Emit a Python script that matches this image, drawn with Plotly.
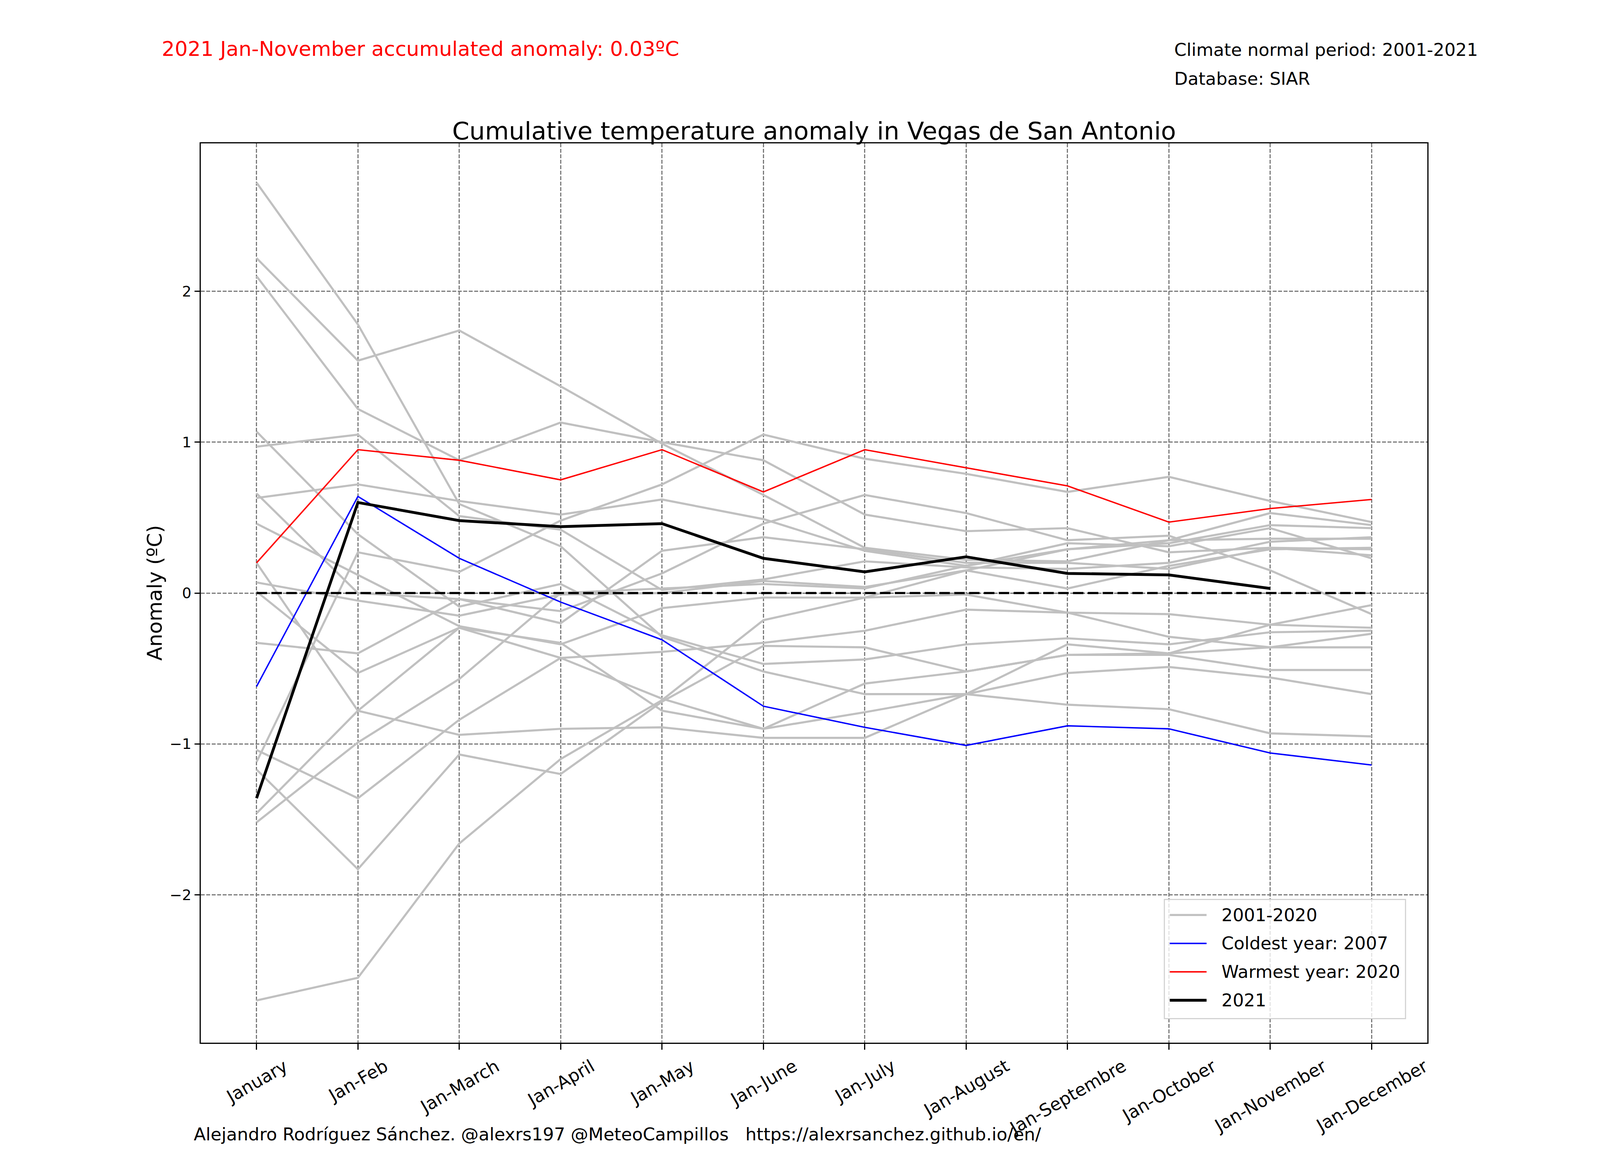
import plotly.graph_objects as go

# cumulative periods on the x axis
periods = ["January", "Jan-Feb", "Jan-March", "Jan-April", "Jan-May", "Jan-June",
           "Jan-July", "Jan-August", "Jan-Septembre", "Jan-October", "Jan-November",
           "Jan-December"]

# 2001-2020 cumulative anomalies (ºC)
past_years = [
    [2.72, 1.78, 0.59, 0.31, -0.29, -0.52, -0.67, -0.67, -0.74, -0.77, -0.93, -0.95],
    [2.22, 1.54, 1.74, 1.37, 0.99, 0.65, 0.30, 0.22, 0.21, 0.35, 0.36, 0.36],
    [2.10, 1.22, 0.88, 1.13, 1.00, 0.88, 0.52, 0.41, 0.43, 0.27, 0.30, 0.29],
    [1.07, 0.39, -0.09, 0.06, -0.28, -0.47, -0.44, -0.34, -0.30, -0.34, -0.26, -0.25],
    [0.97, 1.05, 0.51, 0.42, 0.02, 0.09, 0.21, 0.17, 0.16, 0.20, 0.34, 0.37],
    [0.66, 0.00, -0.04, -0.12, 0.13, 0.46, 0.65, 0.53, 0.35, 0.38, 0.15, -0.14],
    [0.63, 0.72, 0.61, 0.52, 0.62, 0.49, 0.28, 0.18, 0.29, 0.33, 0.45, 0.43],
    [0.46, 0.12, -0.22, -0.34, -0.10, -0.03, -0.03, -0.01, -0.13, -0.29, -0.36, -0.36],
    [0.20, -0.78, -0.94, -0.90, -0.89, -0.96, -0.96, -0.67, -0.34, -0.40, -0.21, -0.08],
    [0.07, -0.05, -0.15, -0.01, 0.00, 0.08, 0.04, 0.15, 0.03, 0.18, 0.29, 0.30],
    [0.01, -0.53, -0.23, -0.43, -0.70, -0.90, -0.79, -0.67, -0.53, -0.49, -0.56, -0.67],
    [-0.33, -0.40, -0.04, -0.20, 0.28, 0.37, 0.29, 0.20, 0.20, 0.16, 0.30, 0.25],
    [-1.04, -1.36, -0.84, -0.43, -0.39, -0.33, -0.25, -0.11, -0.13, -0.14, -0.21, -0.23],
    [-1.12, 0.27, 0.14, 0.48, 0.72, 1.05, 0.89, 0.79, 0.67, 0.77, 0.61, 0.47],
    [-1.17, -1.83, -1.07, -1.20, -0.72, -0.35, -0.36, -0.52, -0.41, -0.41, -0.51, -0.51],
    [-1.46, -0.78, -0.23, -0.33, -0.78, -0.90, -0.60, -0.52, -0.41, -0.40, -0.36, -0.27],
    [-1.52, -0.99, -0.57, 0.00, 0.03, 0.06, 0.03, 0.18, 0.33, 0.31, 0.43, 0.23],
    [-2.70, -2.55, -1.66, -1.10, -0.71, -0.18, -0.03, 0.15, 0.29, 0.35, 0.53, 0.45],
]

coldest_2007 = [-0.62, 0.64, 0.23, -0.06, -0.31, -0.75, -0.89, -1.01, -0.88, -0.90, -1.06, -1.14]
warmest_2020 = [0.20, 0.95, 0.88, 0.75, 0.95, 0.67, 0.95, 0.83, 0.71, 0.47, 0.56, 0.62]
current_2021 = [-1.36, 0.60, 0.48, 0.44, 0.46, 0.23, 0.14, 0.24, 0.13, 0.12, 0.03]

y_ticks = [-2, -1, 0, 1, 2]

FONT = "DejaVu Sans"
# the visible page is narrower than 4500 css px: lay out in reference
# pixels (4500x3000) and scale to the page size
W, H = 4050, 2990
SX = W / 4500.0
SY = H / 3000.0


def px(v):
    return v * SX


x_idx = list(range(len(periods)))

fig = go.Figure()

for serie in past_years:
    fig.add_trace(go.Scatter(x=x_idx, y=serie, mode="lines",
                             line=dict(color="#c0c0c0", width=px(6)), showlegend=False))

fig.add_trace(go.Scatter(x=x_idx, y=coldest_2007, mode="lines",
                         line=dict(color="blue", width=px(4)), showlegend=False))
fig.add_trace(go.Scatter(x=x_idx, y=warmest_2020, mode="lines",
                         line=dict(color="red", width=px(4)), showlegend=False))
fig.add_trace(go.Scatter(x=x_idx, y=[0] * len(periods), mode="lines",
                         line=dict(color="black", width=px(6),
                                   dash="%dpx,%dpx" % (px(31), px(13))),
                         showlegend=False))
fig.add_trace(go.Scatter(x=x_idx[:len(current_2021)], y=current_2021, mode="lines",
                         line=dict(color="black", width=px(8)), showlegend=False))

# rotated x tick labels, centred under each tick like matplotlib does
annotations = []
for i, lab in enumerate(periods):
    annotations.append(dict(x=i, y=0, xref="x", yref="paper", text=lab,
                            showarrow=False, textangle=-30, xanchor="center",
                            yanchor="top", yshift=-30 * SY,
                            font=dict(family=FONT, size=px(50), color="black")))

annotations += [
    dict(x=-0.0375, y=0.5, xref="paper", yref="paper", text="Anomaly (ºC)",
         textangle=-90, showarrow=False, xanchor="center", yanchor="middle",
         font=dict(family=FONT, size=px(58), color="black")),
    dict(x=-0.0324, y=1.105, xref="paper", yref="paper",
         text="2021 Jan-November accumulated anomaly: 0.03ºC", showarrow=False,
         xanchor="left", yanchor="middle",
         font=dict(family=FONT, size=px(58), color="red")),
    dict(x=0.793, y=1.104, xref="paper", yref="paper",
         text="Climate normal period: 2001-2021", showarrow=False,
         xanchor="left", yanchor="middle",
         font=dict(family=FONT, size=px(50), color="black")),
    dict(x=0.793, y=1.072, xref="paper", yref="paper", text="Database: SIAR",
         showarrow=False, xanchor="left", yanchor="middle",
         font=dict(family=FONT, size=px(50), color="black")),
    dict(x=-0.0063, y=-0.102, xref="paper", yref="paper",
         text="Alejandro Rodríguez Sánchez. @alexrs197 @MeteoCampillos   "
              "https://alexrsanchez.github.io/en/",
         showarrow=False, xanchor="left", yanchor="middle",
         font=dict(family=FONT, size=px(50), color="black")),
]

# legend box drawn by hand so the line samples keep matplotlib proportions
legend_items = [("2001-2020", "#c0c0c0", 6), ("Coldest year: 2007", "blue", 4),
                ("Warmest year: 2020", "red", 4), ("2021", "black", 8)]
legend_rows = [0.1420, 0.1104, 0.0788, 0.0472]
shapes = [dict(type="rect", xref="paper", yref="paper", x0=0.7856, x1=0.9822,
               y0=0.0268, y1=0.1593, fillcolor="rgba(255,255,255,0.8)",
               line=dict(color="#d0d0d0", width=px(3)), layer="above")]
for (name, col, w), yy in zip(legend_items, legend_rows):
    shapes.append(dict(type="line", xref="paper", yref="paper", x0=0.790, x1=0.820,
                       y0=yy, y1=yy, line=dict(color=col, width=px(w)), layer="above"))
    annotations.append(dict(x=0.8315, y=yy, xref="paper", yref="paper", text=name,
                            showarrow=False, xanchor="left", yanchor="middle",
                            font=dict(family=FONT, size=px(50), color="black")))

fig.update_layout(
    width=W,
    height=H,
    autosize=False,
    margin=dict(l=562 * SX, r=449 * SX, t=360 * SY, b=330 * SY),
    paper_bgcolor="white",
    plot_bgcolor="white",
    title=dict(text="Cumulative temperature anomaly in Vegas de San Antonio",
               x=0.5, xref="paper", xanchor="center",
               y=1, yref="paper", yanchor="bottom", pad=dict(b=10 * SY),
               font=dict(family=FONT, size=px(70), color="black")),
    annotations=annotations,
    shapes=shapes,
    showlegend=False,
)

grid_dash = "%dpx,%dpx" % (px(12), px(5))
fig.update_xaxes(range=[-0.55, 11.55], tickvals=x_idx, showticklabels=False,
                 ticks="outside", ticklen=15 * SY, tickwidth=px(3.3), tickcolor="black",
                 showline=True, mirror=True, linecolor="black", linewidth=px(3.3),
                 showgrid=True, gridcolor="#7a7a7a", gridwidth=px(3), griddash=grid_dash,
                 zeroline=False)
fig.update_yaxes(range=[-2.98, 2.98], tickvals=y_ticks,
                 ticks="outside", ticklen=px(15), tickwidth=px(3.3), tickcolor="black",
                 tickfont=dict(family=FONT, size=px(42), color="black"),
                 showline=True, mirror=True, linecolor="black", linewidth=px(3.3),
                 showgrid=True, gridcolor="#7a7a7a", gridwidth=px(3), griddash=grid_dash,
                 zeroline=False)

fig.write_html("out.html")
